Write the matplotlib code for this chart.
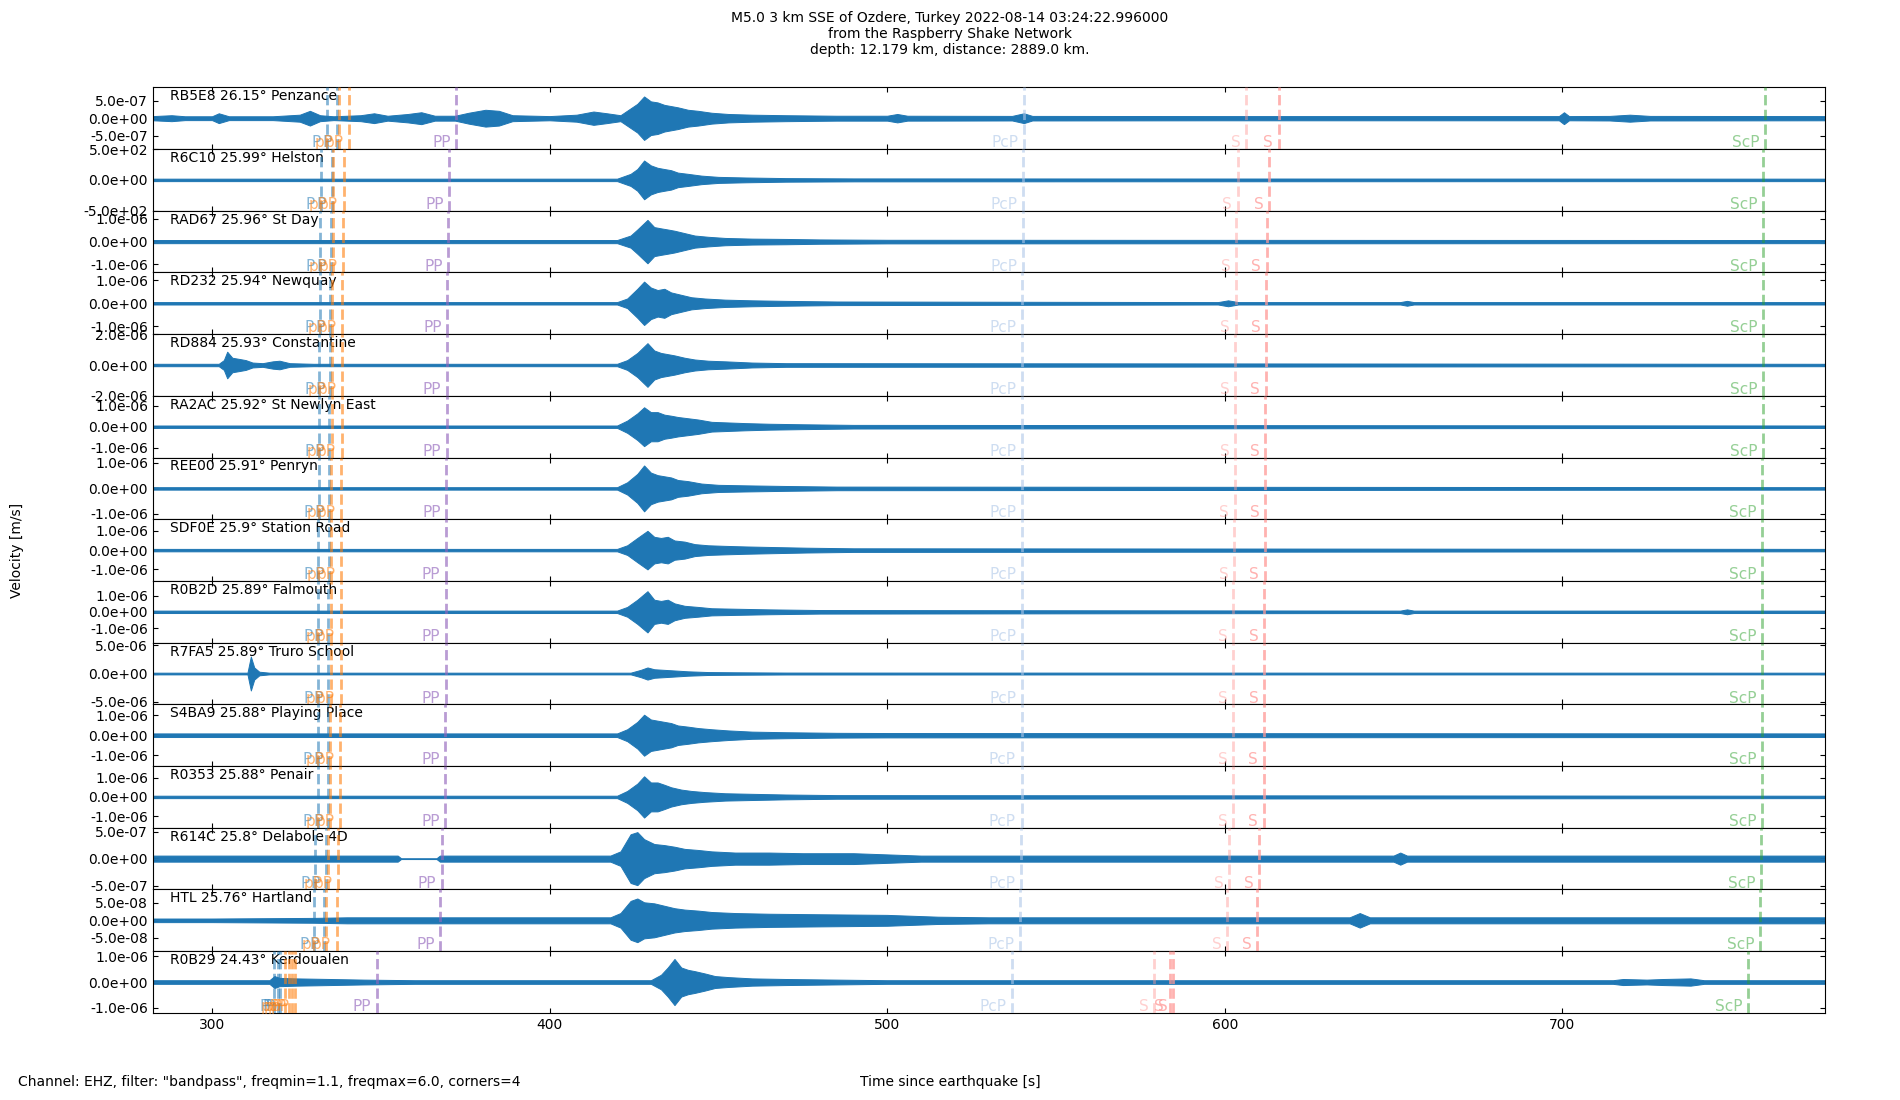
import numpy as np
from matplotlib import pyplot as plt
from matplotlib.ticker import FormatStrFormatter

# stations, top to bottom
stations = ["RB5E8", "R6C10", "RAD67", "RD232", "RD884", "RA2AC", "REE00", "SDF0E",
            "R0B2D", "R7FA5", "S4BA9", "R0353", "R614C", "HTL", "R0B29"]
distances = [26.15, 25.99, 25.96, 25.94, 25.93, 25.92, 25.91, 25.9,
             25.89, 25.89, 25.88, 25.88, 25.8, 25.76, 24.43]
places = ["Penzance", "Helston", "St Day", "Newquay", "Constantine", "St Newlyn East",
          "Penryn", "Station Road", "Falmouth", "Truro School", "Playing Place",
          "Penair", "Delabole 4D", "Hartland", "Kerdoualen"]

# y tick value and y limit of each panel
ytick_vals = [5e-7, 5e2, 1e-6, 1e-6, 2e-6, 1e-6, 1e-6, 1e-6, 1e-6, 5e-6, 1e-6, 1e-6, 5e-7, 5e-8, 1e-6]
ylims = [8.8e-7, 5.0e2, 1.35e-6, 1.35e-6, 2.02e-6, 1.46e-6, 1.21e-6, 1.6e-6, 1.9e-6,
         5.5e-6, 1.55e-6, 1.6e-6, 5.7e-7, 8.9e-8, 1.19e-6]

# trace envelopes (time [s], half amplitude)
env_RB5E8 = [(282.5, 0.6), (288, 0.85), (292, 0.55), (300, 0.55), (302, 1.4), (305, 0.55), (318, 0.55),
             (326, 1.0), (329, 2.1), (332, 0.85), (336, 0.55), (344, 0.85), (348, 1.4), (352, 0.7),
             (358, 1.2), (362, 1.7), (366, 0.7), (372, 0.7), (376, 1.55), (381, 2.4), (385, 2.1),
             (389, 0.85), (400, 0.6), (408, 1.0), (413, 1.9), (417, 1.4), (421, 0.85), (424, 2.8),
             (426, 4.1), (428, 6.2), (430, 4.8), (432, 4.5), (434, 3.8), (436, 3.45), (438, 3.1),
             (441, 2.4), (444, 2.1), (448, 1.55), (453, 1.2), (460, 1.0), (470, 0.85), (485, 0.7),
             (500, 0.7), (503, 1.2), (506, 0.7), (537, 0.65), (540.5, 1.4), (543, 0.65), (600, 0.6),
             (699, 0.6), (700.5, 1.7), (702, 0.6), (714, 0.65), (720, 1.0), (726, 0.65), (777.7, 0.6)]
env_R6C10 = [(282.5, 20), (420, 20), (424, 98), (426, 176), (428, 314), (430, 235), (432, 196),
             (434, 176), (436, 157), (438, 118), (441, 98), (445, 69), (450, 49), (458, 39),
             (470, 29), (490, 24), (777.7, 20)]
env_RAD67 = [(282.5, 0.69), (420, 0.69), (424, 2.65), (426, 5.3), (429, 9.5), (431, 6.35), (433, 5.8),
             (435, 5.3), (437, 4.76), (440, 3.7), (443, 2.65), (447, 2.1), (452, 1.6), (460, 1.3),
             (470, 1.16), (480, 0.95), (500, 0.79), (777.7, 0.69)]
env_RD232 = [(282.5, 0.53), (420, 0.53), (423, 2.1), (426, 6.35), (428, 9.5), (430, 6.9), (432, 5.8),
             (434, 6.35), (436, 4.76), (439, 3.7), (442, 2.65), (446, 2.1), (452, 1.6), (460, 1.3),
             (470, 1.06), (485, 0.79), (598, 0.53), (601, 1.3), (604, 0.53), (652, 0.53), (654, 1.06),
             (656, 0.53), (777.7, 0.53)]
env_RD884 = [(282.5, 0.79), (302, 0.79), (303.5, 3.2), (304.5, 8.7), (306, 4.75), (308, 4.0), (310, 3.2),
             (312, 1.6), (315, 1.2), (318, 2.4), (320, 2.8), (323, 1.2), (330, 0.79), (420, 0.79),
             (423, 3.2), (426, 7.9), (429, 14.3), (431, 9.5), (433, 7.9), (435, 7.1), (437, 6.3),
             (440, 4.75), (443, 3.6), (447, 2.8), (452, 2.4), (460, 1.6), (470, 1.2), (777.7, 0.79)]
env_RA2AC = [(282.5, 0.57), (420, 0.57), (423, 2.9), (426, 6.3), (428, 9.2), (430, 6.9), (432, 6.9),
             (434, 5.7), (436, 5.2), (438, 4.6), (441, 4.0), (444, 3.4), (448, 2.3), (453, 2.0),
             (458, 1.7), (465, 1.4), (475, 1.15), (490, 0.86), (777.7, 0.57)]
env_REE00 = [(282.5, 0.48), (420, 0.48), (423, 2.4), (426, 5.7), (428, 9.0), (430, 6.2), (432, 5.2),
             (434, 4.75), (436, 4.3), (438, 3.3), (441, 2.85), (445, 1.9), (450, 1.4), (458, 1.2),
             (470, 0.95), (485, 0.71), (777.7, 0.48)]
env_SDF0E = [(282.5, 0.63), (420, 0.63), (423, 2.5), (426, 6.3), (429, 10.0), (431, 6.9), (433, 6.3),
             (435, 6.9), (437, 5.0), (440, 4.4), (443, 3.1), (447, 2.5), (452, 2.2), (458, 1.9),
             (466, 1.6), (476, 1.25), (490, 0.94), (777.7, 0.63)]
env_R0B2D = [(282.5, 0.75), (420, 0.75), (423, 3.0), (426, 7.45), (429, 12.7), (431, 7.45), (433, 6.7),
             (435, 7.45), (437, 5.2), (440, 3.7), (444, 3.0), (448, 2.2), (455, 1.9), (465, 1.5),
             (480, 1.1), (652, 0.75), (654, 1.5), (656, 0.75), (777.7, 0.75)]
env_R7FA5 = [(282.5, 1.5), (310.5, 1.5), (311.5, 30.2), (312.5, 10.8), (314, 3.2), (317, 1.5), (424, 1.5),
             (427, 6.5), (429, 10.8), (431, 7.6), (434, 6.5), (437, 5.4), (441, 3.9), (447, 2.6),
             (455, 2.2), (470, 1.7), (777.7, 1.5)]
env_S4BA9 = [(282.5, 0.91), (420, 0.91), (423, 3.0), (426, 6.7), (428, 10.3), (430, 7.9), (432, 7.3),
             (434, 6.7), (436, 6.1), (438, 4.9), (441, 4.3), (444, 3.6), (448, 3.0), (453, 2.4),
             (460, 1.8), (470, 1.5), (485, 1.2), (500, 1.1), (777.7, 0.91)]
env_R0353 = [(282.5, 0.63), (420, 0.63), (423, 3.1), (426, 6.9), (428, 10.7), (430, 7.5), (432, 7.5),
             (434, 6.3), (436, 5.0), (439, 3.8), (442, 3.1), (446, 2.5), (452, 1.9), (460, 1.6),
             (470, 1.25), (485, 0.94), (777.7, 0.63)]
env_R614C = [(282.5, 0.56), (355, 0.56), (356, 0.07), (366.5, 0.07), (367.5, 0.56), (418, 0.56),
             (421, 1.34), (424, 4.5), (426, 4.9), (428, 3.6), (431, 2.7), (434, 2.5), (437, 2.2),
             (440, 1.8), (444, 1.6), (448, 1.34), (455, 1.12), (465, 1.12), (475, 1.0), (490, 1.0),
             (500, 0.78), (510, 0.56), (650, 0.56), (652, 1.12), (654, 0.56), (777.7, 0.56)]
env_HTL = [(282.5, 0.52), (300, 0.52), (330, 0.7), (340, 0.87), (418, 0.87), (421, 2.1), (424, 5.6),
           (426, 6.3), (428, 5.2), (431, 4.9), (434, 4.2), (437, 3.5), (440, 3.1), (444, 2.8),
           (448, 2.4), (455, 2.1), (465, 1.9), (480, 1.75), (500, 1.57), (515, 1.05), (530, 0.87),
           (637, 0.87), (640, 2.1), (643, 0.87), (777.7, 0.87)]
env_R0B29 = [(282.5, 0.7), (317, 0.7), (318.5, 2.3), (320, 1.6), (325, 1.4), (335, 1.17), (345, 0.93),
             (360, 0.7), (430, 0.7), (433, 2.8), (435, 5.6), (437, 8.9), (439, 5.6), (441, 4.7),
             (443, 4.2), (446, 3.3), (449, 2.3), (453, 1.9), (460, 1.4), (470, 1.17), (485, 0.93),
             (500, 0.7), (715, 0.7), (718, 1.17), (725, 0.93), (730, 1.17), (738, 1.4), (742, 0.7),
             (777.7, 0.7)]
envelopes = [env_RB5E8, env_R6C10, env_RAD67, env_RD232, env_RD884, env_RA2AC, env_REE00, env_SDF0E,
             env_R0B2D, env_R7FA5, env_S4BA9, env_R0353, env_R614C, env_HTL, env_R0B29]
env_units = [1e-7, 1.0, 1e-7, 1e-7, 1e-7, 1e-7, 1e-7, 1e-7, 1e-7, 1e-7, 1e-7, 1e-7, 1e-7, 1e-8, 1e-7]

# predicted arrival times [s]
P_times = [[334.0, 337.1], [332.2, 335.4], [332.0, 335.2], [331.9, 335.0], [331.8, 334.9],
           [331.7, 334.8], [331.6, 334.7], [331.5, 334.6], [331.4, 334.5], [331.4, 334.5],
           [331.3, 334.4], [331.3, 334.4], [330.6, 333.7], [330.2, 333.3], [318.4, 319.4, 320.1]]
pP_times = [[337.6, 340.7], [335.9, 339.0], [335.8, 338.8], [335.6, 338.6], [335.5, 338.5],
            [335.4, 338.4], [335.3, 338.3], [335.2, 338.2], [335.1, 338.1], [335.1, 338.1],
            [335.0, 338.0], [335.0, 338.0], [334.3, 337.3], [333.9, 336.9], [321.7, 322.7, 323.7, 324.5]]
PP_times = [372.3, 370.3, 370.0, 369.7, 369.6, 369.5, 369.4, 369.3, 369.2, 369.2, 369.1, 369.1,
            368.1, 367.6, 348.8]
PcP_times = [540.6, 540.3, 540.2, 540.0, 540.0, 540.0, 539.9, 539.9, 539.9, 539.9, 539.8, 539.8,
             539.6, 539.4, 537.0]
S_times = [[606.3, 616.0], [603.8, 613.1], [603.4, 612.4], [603.2, 612.3], [603.1, 612.1],
           [603.0, 612.0], [602.9, 611.9], [602.8, 611.8], [602.6, 611.6], [602.6, 611.6],
           [602.5, 611.5], [602.5, 611.5], [601.4, 610.2], [600.8, 609.6], [579.0, 583.7, 584.7]]
ScP_times = [760.0, 759.6, 759.6, 759.5, 759.4, 759.4, 759.3, 759.3, 759.2, 759.2, 759.2, 759.2,
             758.9, 758.7, 754.9]

xmin, xmax = 282.5, 777.7

fig, axes = plt.subplots(15, 1, sharex=True, figsize=(19, 11), dpi=100)
fig.subplots_adjust(left=0.0805, right=0.9603, top=0.9206, bottom=0.0792, hspace=0)


def phase(ax, t, name, color, alpha):
    ax.axvline(t, color=color, alpha=alpha, ls="--", lw=2, zorder=3)
    ax.annotate(name, xy=(t, 0.03), xycoords=ax.get_xaxis_transform(), xytext=(-4, 0),
                textcoords="offset points", ha="right", va="baseline", fontsize=11,
                color=color, alpha=alpha)


for i, ax in enumerate(axes):
    env = np.array(envelopes[i])
    t = env[:, 0]
    a = env[:, 1] * env_units[i]
    ax.fill_between(t, -a, a, color="#1f77b4", lw=0.7)
    ax.plot(t, np.zeros(len(t)), color="#1f77b4", lw=0.8)

    ax.set_xlim(xmin, xmax)
    ax.set_ylim(-ylims[i], ylims[i])
    ax.set_yticks([-ytick_vals[i], 0, ytick_vals[i]])
    ax.yaxis.set_major_formatter(FormatStrFormatter("%.1e"))
    ax.tick_params(direction="in", top=True, right=True, labelsize=10)

    ax.text(0.01, 0.97, "%s %s° %s" % (stations[i], distances[i], places[i]),
            transform=ax.transAxes, ha="left", va="top", fontsize=10)

    for tp in P_times[i]:
        phase(ax, tp, "P", "#1f77b4", 0.55)
    for tp in pP_times[i]:
        phase(ax, tp, "pP", "#ff7f0e", 0.6)
    phase(ax, PP_times[i], "PP", "#9467bd", 0.65)
    phase(ax, PcP_times[i], "PcP", "#aec7e8", 0.6)
    for k, ts in enumerate(S_times[i]):
        phase(ax, ts, "S", "#ff9896", 0.45 if k == 0 else 0.75)
    phase(ax, ScP_times[i], "ScP", "#2ca02c", 0.5)

axes[-1].set_xticks([300, 400, 500, 600, 700])

fig.suptitle("M5.0 3 km SSE of Ozdere, Turkey 2022-08-14 03:24:22.996000\n"
             "from the Raspberry Shake Network\n"
             "depth: 12.179 km, distance: 2889.0 km.", fontsize=10, y=0.99, va="top")
fig.supxlabel("Time since earthquake [s]", fontsize=10, y=0.01)
fig.supylabel("Velocity [m/s]", fontsize=10, x=0.005)
fig.text(0.0095, 0.01, 'Channel: EHZ, filter: "bandpass", freqmin=1.1, freqmax=6.0, corners=4',
         fontsize=10, ha="left", va="bottom")

plt.savefig("out.png")
